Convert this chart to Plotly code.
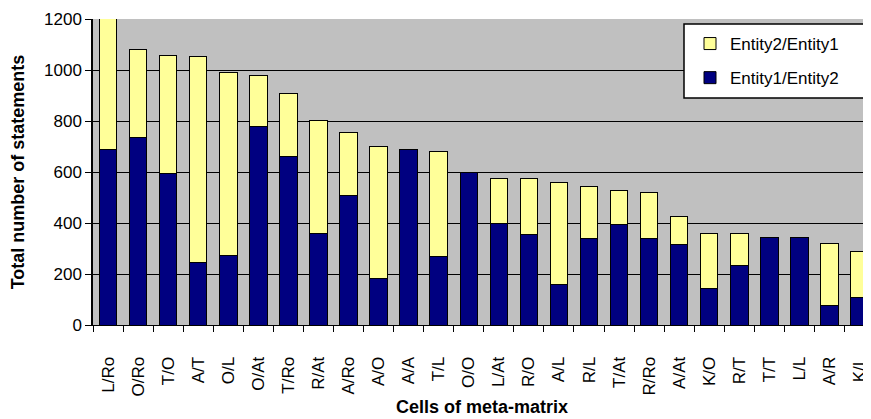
import plotly.graph_objects as go

categories = ["L/Ro", "O/Ro", "T/O", "A/T", "O/L", "O/At", "T/Ro", "R/At", "A/Ro", "A/O",
              "A/A", "T/L", "O/O", "L/At", "R/O", "A/L", "R/L", "T/At", "R/Ro", "A/At",
              "K/O", "R/T", "T/T", "L/L", "A/R", "K/L"]
entity1_entity2 = [688, 737, 595, 247, 274, 779, 662, 359, 507, 184,
                   687, 270, 600, 398, 355, 157, 338, 394, 338, 315,
                   144, 235, 343, 343, 78, 109]
entity2_entity1 = [528, 342, 463, 805, 715, 198, 246, 443, 249, 516,
                   0, 412, 0, 177, 220, 401, 207, 135, 181, 112,
                   215, 124, 0, 0, 242, 181]
y_ticks = [0, 200, 400, 600, 800, 1000, 1200]

FONT = "Arial, Liberation Sans, sans-serif"

# page body has an 8px default margin; the figure is sized so it ends at the window edge
OFF = 8
PL, PR, PT, PB = 93, 871, 19, 325  # plot area in window pixels
W, H = 871 - OFF, 419 - OFF
PW, PH = PR - PL, PB - PT

fig = go.Figure()
fig.add_trace(go.Bar(
    x=categories, y=entity1_entity2, name="Entity1/Entity2",
    marker=dict(color="#000080", line=dict(color="black", width=1)),
    cliponaxis=False, legendgroup="a", legendrank=2,
))
fig.add_trace(go.Bar(
    x=categories, y=entity2_entity1, name="Entity2/Entity1",
    marker=dict(color="#FFFF99", line=dict(color="black", width=1)),
    cliponaxis=False, legendgroup="b", legendrank=1,
))

fig.update_layout(
    width=W, height=H,
    margin=dict(l=PL - OFF, r=0, t=PT - OFF, b=H - (PB - OFF)),
    barmode="stack", bargap=0.42,
    paper_bgcolor="white", plot_bgcolor="#C0C0C0",
    font=dict(family=FONT, size=17, color="black"),
    showlegend=True,
    legend=dict(
        x=(690 - PL) / PW, xanchor="left",
        y=(PB - 26) / PH, yanchor="top",
        bgcolor="rgba(0,0,0,0)", borderwidth=0,
        traceorder="grouped", tracegroupgap=9,
        font=dict(family=FONT, size=17, color="black"),
    ),
    shapes=[dict(
        type="rect", xref="paper", yref="paper",
        x0=(684 - PL) / PW, x1=(868 - PL) / PW,
        y0=(PB - 98) / PH, y1=(PB - 24) / PH,
        line=dict(color="black", width=1.5), fillcolor="white", layer="above",
    )],
    xaxis=dict(
        range=[-0.5, 25.38], tickangle=-90, tickson="boundaries",
        ticks="outside", ticklen=6, tickcolor="black", tickwidth=1,
        showline=True, linecolor="black", linewidth=1,
        showgrid=False, ticklabelstandoff=24, automargin=False,
        tickfont=dict(family=FONT, size=17),
        title=dict(text="<b>Cells of meta-matrix</b>", font=dict(family=FONT, size=18), standoff=4),
    ),
    yaxis=dict(
        range=[0, 1200], tickvals=y_ticks,
        ticks="outside", ticklen=6, tickcolor="black", tickwidth=1,
        showline=True, linecolor="black", linewidth=1.5,
        showgrid=True, gridcolor="black", gridwidth=1.2, zeroline=False,
        automargin=False,
        tickfont=dict(family=FONT, size=17),
        title=dict(text="<b>Total number of statements</b>", font=dict(family=FONT, size=18)),
    ),
)

fig.write_html("out.html")
